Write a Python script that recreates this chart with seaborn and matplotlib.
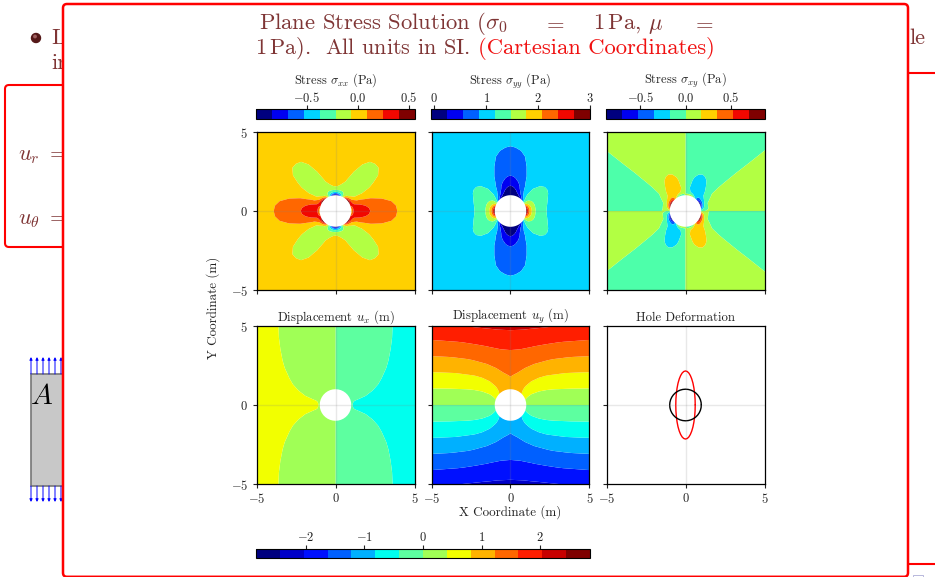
import numpy as np
import matplotlib
matplotlib.use("Agg")
import matplotlib.pyplot as plt
from matplotlib.patches import FancyBboxPatch, Rectangle, Circle
import pandas as pd
import seaborn as sns

# radius nodes of the tables below; rows run over the angle in the first quadrant
# stress tables step 5 degrees, displacement tables step 10 degrees
radii = [1, 1.1, 1.25, 1.5, 2, 2.5, 3, 4, 5, 7.2]

sxx_q = [
    [0.0, 0.214, 0.345, 0.37, 0.281, 0.202, 0.148, 0.088, 0.058, 0.029],
    [0.023, 0.22, 0.339, 0.357, 0.27, 0.193, 0.142, 0.085, 0.055, 0.028],
    [0.087, 0.236, 0.32, 0.322, 0.237, 0.169, 0.123, 0.073, 0.047, 0.024],
    [0.183, 0.259, 0.289, 0.265, 0.186, 0.13, 0.095, 0.055, 0.036, 0.018],
    [0.296, 0.282, 0.249, 0.195, 0.123, 0.082, 0.059, 0.034, 0.022, 0.011],
    [0.409, 0.3, 0.201, 0.117, 0.053, 0.031, 0.019, 0.01, 0.006, 0.003],
    [0.5, 0.305, 0.148, 0.038, -0.016, -0.021, -0.019, -0.013, -0.009, -0.005],
    [0.554, 0.294, 0.09, -0.036, -0.077, -0.066, -0.052, -0.033, -0.022, -0.011],
    [0.557, 0.258, 0.032, -0.1, -0.125, -0.1, -0.078, -0.047, -0.032, -0.016],
    [0.5, 0.199, -0.025, -0.147, -0.156, -0.122, -0.093, -0.057, -0.038, -0.019],
    [0.383, 0.115, -0.079, -0.177, -0.169, -0.128, -0.097, -0.058, -0.039, -0.02],
    [0.212, 0.011, -0.129, -0.188, -0.162, -0.121, -0.09, -0.055, -0.035, -0.018],
    [0.0, -0.108, -0.172, -0.184, -0.141, -0.101, -0.074, -0.044, -0.029, -0.014],
    [-0.235, -0.231, -0.21, -0.168, -0.108, -0.072, -0.052, -0.03, -0.02, -0.01],
    [-0.47, -0.351, -0.241, -0.145, -0.068, -0.04, -0.026, -0.014, -0.008, -0.004],
    [-0.683, -0.457, -0.265, -0.119, -0.03, -0.008, -0.002, 0.001, 0.002, 0.001],
    [-0.853, -0.541, -0.282, -0.096, 0.002, 0.018, 0.019, 0.015, 0.01, 0.006],
    [-0.963, -0.593, -0.292, -0.08, 0.024, 0.036, 0.033, 0.023, 0.016, 0.009],
    [-1.0, -0.612, -0.295, -0.075, 0.031, 0.042, 0.038, 0.025, 0.018, 0.009],
]
syy_q = [
    [3.0, 2.438, 1.935, 1.519, 1.219, 1.118, 1.074, 1.037, 1.022, 1.01],
    [2.948, 2.407, 1.922, 1.518, 1.222, 1.122, 1.077, 1.039, 1.024, 1.011],
    [2.793, 2.317, 1.883, 1.513, 1.233, 1.132, 1.085, 1.044, 1.027, 1.012],
    [2.549, 2.172, 1.819, 1.504, 1.247, 1.147, 1.098, 1.053, 1.033, 1.016],
    [2.236, 1.983, 1.731, 1.485, 1.26, 1.163, 1.111, 1.062, 1.039, 1.019],
    [1.878, 1.762, 1.622, 1.454, 1.269, 1.175, 1.123, 1.07, 1.045, 1.022],
    [1.5, 1.521, 1.492, 1.406, 1.266, 1.181, 1.13, 1.075, 1.049, 1.024],
    [1.13, 1.271, 1.348, 1.34, 1.248, 1.176, 1.128, 1.076, 1.049, 1.025],
    [0.791, 1.029, 1.191, 1.254, 1.212, 1.156, 1.116, 1.069, 1.046, 1.023],
    [0.5, 0.801, 1.025, 1.147, 1.156, 1.122, 1.093, 1.057, 1.038, 1.019],
    [0.269, 0.598, 0.857, 1.022, 1.082, 1.073, 1.058, 1.036, 1.025, 1.013],
    [0.104, 0.424, 0.691, 0.884, 0.991, 1.011, 1.014, 1.012, 1.008, 1.005],
    [0.0, 0.281, 0.532, 0.74, 0.891, 0.941, 0.963, 0.981, 0.989, 0.995],
    [-0.052, 0.169, 0.387, 0.597, 0.786, 0.867, 0.909, 0.95, 0.968, 0.985],
    [-0.062, 0.085, 0.26, 0.465, 0.685, 0.795, 0.856, 0.918, 0.947, 0.974],
    [-0.049, 0.026, 0.157, 0.35, 0.597, 0.731, 0.809, 0.891, 0.929, 0.965],
    [-0.027, -0.012, 0.078, 0.261, 0.528, 0.681, 0.772, 0.868, 0.915, 0.958],
    [-0.008, -0.034, 0.031, 0.206, 0.484, 0.649, 0.749, 0.854, 0.905, 0.953],
    [0.0, -0.04, 0.015, 0.187, 0.469, 0.638, 0.74, 0.85, 0.902, 0.952],
]
sxy_q = [
    [0.0, 0.0, 0.0, 0.0, 0.0, 0.0, 0.0, 0.0, 0.0, 0.0],
    [-0.258, -0.139, -0.047, 0.011, 0.032, 0.028, 0.022, 0.014, 0.009, 0.005],
    [-0.493, -0.269, -0.094, 0.019, 0.058, 0.051, 0.04, 0.026, 0.017, 0.009],
    [-0.683, -0.378, -0.139, 0.017, 0.073, 0.066, 0.052, 0.034, 0.023, 0.012],
    [-0.815, -0.461, -0.182, 0.001, 0.074, 0.068, 0.056, 0.035, 0.025, 0.013],
    [-0.876, -0.512, -0.221, -0.026, 0.059, 0.058, 0.049, 0.032, 0.022, 0.012],
    [-0.866, -0.529, -0.256, -0.065, 0.027, 0.036, 0.032, 0.022, 0.015, 0.008],
    [-0.792, -0.516, -0.285, -0.114, -0.017, 0.003, 0.007, 0.007, 0.005, 0.003],
    [-0.664, -0.475, -0.307, -0.169, -0.07, -0.037, -0.023, -0.011, -0.007, -0.003],
    [-0.5, -0.413, -0.32, -0.222, -0.125, -0.08, -0.056, -0.031, -0.02, -0.01],
    [-0.322, -0.34, -0.324, -0.269, -0.177, -0.121, -0.087, -0.05, -0.032, -0.016],
    [-0.148, -0.26, -0.316, -0.303, -0.218, -0.153, -0.112, -0.066, -0.043, -0.021],
    [0.0, -0.186, -0.298, -0.32, -0.244, -0.175, -0.128, -0.076, -0.05, -0.025],
    [0.11, -0.121, -0.27, -0.314, -0.25, -0.181, -0.134, -0.08, -0.053, -0.026],
    [0.171, -0.071, -0.23, -0.287, -0.235, -0.171, -0.127, -0.076, -0.05, -0.025],
    [0.183, -0.035, -0.181, -0.239, -0.198, -0.146, -0.108, -0.065, -0.043, -0.021],
    [0.151, -0.013, -0.125, -0.17, -0.144, -0.105, -0.078, -0.047, -0.031, -0.016],
    [0.084, -0.004, -0.065, -0.088, -0.075, -0.056, -0.042, -0.025, -0.016, -0.008],
    [0.0, 0.0, 0.0, 0.0, 0.0, 0.0, 0.0, 0.0, 0.0, 0.0],
]
ux_q = [
    [-0.385, -0.412, -0.432, -0.446, -0.459, -0.481, -0.51, -0.588, -0.68, -0.903],
    [-0.379, -0.401, -0.418, -0.429, -0.442, -0.465, -0.494, -0.573, -0.664, -0.887],
    [-0.362, -0.369, -0.374, -0.378, -0.391, -0.415, -0.447, -0.527, -0.617, -0.833],
    [-0.333, -0.322, -0.311, -0.305, -0.316, -0.343, -0.378, -0.458, -0.546, -0.752],
    [-0.294, -0.266, -0.239, -0.224, -0.233, -0.262, -0.297, -0.376, -0.46, -0.648],
    [-0.248, -0.205, -0.168, -0.147, -0.154, -0.182, -0.216, -0.29, -0.364, -0.53],
    [-0.193, -0.146, -0.108, -0.083, -0.09, -0.115, -0.144, -0.206, -0.268, -0.4],
    [-0.131, -0.093, -0.06, -0.041, -0.044, -0.063, -0.085, -0.131, -0.175, -0.268],
    [-0.067, -0.045, -0.027, -0.015, -0.016, -0.027, -0.038, -0.063, -0.085, -0.133],
    [0.0, 0.0, 0.0, 0.0, 0.0, 0.0, 0.0, 0.0, 0.0, 0.0],
]
uy_q = [
    [0.0, 0.0, 0.0, 0.0, 0.0, 0.0, 0.0, 0.0, 0.0, 0.0],
    [0.201, 0.175, 0.155, 0.143, 0.154, 0.179, 0.208, 0.271, 0.337, 0.483],
    [0.395, 0.349, 0.312, 0.293, 0.314, 0.361, 0.419, 0.541, 0.669, 0.954],
    [0.577, 0.522, 0.476, 0.451, 0.484, 0.551, 0.632, 0.806, 0.99, 1.404],
    [0.742, 0.687, 0.642, 0.621, 0.66, 0.742, 0.842, 1.062, 1.294, 1.82],
    [0.884, 0.84, 0.803, 0.788, 0.837, 0.93, 1.043, 1.296, 1.566, 2.184],
    [0.999, 0.972, 0.949, 0.943, 0.998, 1.099, 1.222, 1.498, 1.798, 2.49],
    [1.084, 1.075, 1.066, 1.07, 1.131, 1.235, 1.363, 1.655, 1.975, 2.719],
    [1.136, 1.139, 1.142, 1.154, 1.217, 1.322, 1.453, 1.754, 2.087, 2.861],
    [1.154, 1.162, 1.168, 1.183, 1.247, 1.353, 1.484, 1.788, 2.125, 2.909],
]

# contour band edges
sxx_range = [-0.995, 0.56]
syy_range = [-0.064, 3.0]
sxy_range = [-0.88, 0.88]
disp_range = [-2.85, 2.85]

# outlines of the hole, first quadrant
circle_x = [1.0, 0.985, 0.94, 0.866, 0.766, 0.643, 0.5, 0.342, 0.174, 0.0]
circle_y = [0.0, 0.174, 0.342, 0.5, 0.643, 0.766, 0.866, 0.94, 0.985, 1.0]
deformed_x = [0.615, 0.606, 0.578, 0.533, 0.472, 0.395, 0.307, 0.211, 0.107, 0.0]
deformed_y = [0.0, 0.375, 0.737, 1.077, 1.385, 1.65, 1.865, 2.024, 2.121, 2.154]

panel_ticks = [-5, 0, 5]
panel_ticklabels = ["$-5$", "$0$", "$5$"]
sxx_ticks = [-0.5, 0.0, 0.5]
syy_ticks = [0, 1, 2, 3]
sxy_ticks = [-0.5, 0.0, 0.5]
disp_ticks = [-2, -1, 0, 1, 2]

stress_colors = ["#00007f", "#0000f1", "#0060ff", "#00d4ff", "#4dffaa",
                 "#b2ff43", "#ffd000", "#ff6700", "#f10700", "#7f0000"]
disp_colors = ["#00007f", "#0000c8", "#0010ff", "#0060ff", "#00b0ff", "#00ffee", "#5dffa0",
               "#a0ff56", "#f2ff00", "#ffb300", "#ff6700", "#ff1e00", "#c80000", "#7f0000"]

W, H = 935, 577
BROWN = "#7f3535"

sns.set_style("ticks")
plt.rcParams["font.family"] = ["cmr10", "DejaVu Serif"]
plt.rcParams["mathtext.fontset"] = "cm"
plt.rcParams["axes.unicode_minus"] = False
plt.rcParams["axes.edgecolor"] = "black"
plt.rcParams["text.color"] = "#222222"
plt.rcParams["xtick.color"] = "#222222"
plt.rcParams["ytick.color"] = "#222222"


def full_turn(q, sx, sy):
    # the tables hold one quadrant, the other three follow from the symmetry
    q = np.array(q)
    rev = q[::-1]
    return np.vstack([q, sx * rev[1:], sx * sy * q[1:], sy * rev[1:]])


def closed_outline(xs, ys):
    xs = np.array(xs)
    ys = np.array(ys)
    return pd.DataFrame({
        "x": np.concatenate([xs, -xs[::-1][1:], -xs[1:], xs[::-1][1:]]),
        "y": np.concatenate([ys, ys[::-1][1:], -ys[1:], -ys[::-1][1:]]),
    })


def box(x0, y0, x1, y1):
    # pixel box to figure fraction
    return [x0 / W, 1 - y1 / H, (x1 - x0) / W, (y1 - y0) / H]


def fx(x):
    return x / W


def fy(y):
    return 1 - y / H


fig = plt.figure(figsize=(W / 100, H / 100), dpi=100)

# --- slide behind the overlay ---
bg = fig.add_axes([0, 0, 1, 1], zorder=0)
bg.set_xlim(0, W)
bg.set_ylim(H, 0)
bg.axis("off")
bg.add_patch(FancyBboxPatch((5, 85), 120, 162, boxstyle="round,pad=0,rounding_size=4",
                            fc="white", ec="red", lw=1.5))
bg.plot([908, W], [73, 73], color="red", lw=1.5)
bg.plot([908, W], [564, 564], color="red", lw=1.5)
bg.add_patch(Circle((36, 38), 4.5, color="#551818"))
bg.add_patch(Circle((35, 36.5), 1.2, color="#a06060"))
bg.text(51, 44, "L", fontsize=16, color=BROWN)
bg.text(51, 69, "in", fontsize=16, color=BROWN)
bg.text(909, 44, "le", fontsize=16, color=BROWN)
bg.text(18.5, 160, r"$u_r\ =$", fontsize=16, color=BROWN)
bg.text(18.5, 224, r"$u_\theta\ =$", fontsize=16, color=BROWN)
bg.add_patch(Rectangle((31, 373.5), 50, 112, fc="#c8c8c8", ec="#777777", lw=1.2))
for ax_x in [31, 37, 43, 49, 55, 61]:
    bg.annotate("", xy=(ax_x, 357), xytext=(ax_x, 374), arrowprops=dict(arrowstyle="-|>", color="blue", lw=0.7, mutation_scale=4, shrinkA=0, shrinkB=0))
    bg.annotate("", xy=(ax_x, 502), xytext=(ax_x, 486), arrowprops=dict(arrowstyle="-|>", color="blue", lw=0.7, mutation_scale=4, shrinkA=0, shrinkB=0))
bg.text(29.5, 404, "$A$", fontsize=21, color="black")
bg.add_patch(Rectangle((913, 575), 10, 5, fc="white", ec="#b8b8dc", lw=0.7))
bg.add_patch(FancyBboxPatch((63, 4), 845, 572.8, boxstyle="round,pad=0,rounding_size=4",
                            fc="white", ec="red", lw=1.8, zorder=5))

# --- title ---
fig.text(fx(259), fy(29), r"Plane Stress Solution ($\sigma_0$", fontsize=16.3, color=BROWN)
fig.text(fx(543), fy(29), "$=$", fontsize=16.3, color=BROWN)
fig.text(fx(593), fy(29), r"$1\,$Pa, $\mu$", fontsize=16.3, color=BROWN)
fig.text(fx(692), fy(29), "$=$", fontsize=16.3, color=BROWN)
fig.text(fx(255), fy(54), r"$1\,$Pa).  All units in SI.", fontsize=16, color=BROWN)
fig.text(fx(478), fy(54), "(Cartesian Coordinates)", fontsize=16.3, color="#f01010")

# --- fields ---
fields = [
    (sxx_q, 1, 1, sxx_range, stress_colors, box(256, 132, 415, 290)),
    (syy_q, 1, 1, syy_range, stress_colors, box(431, 132, 590, 290)),
    (sxy_q, -1, -1, sxy_range, stress_colors, box(606, 132, 765, 290)),
    (ux_q, -1, 1, disp_range, disp_colors, box(256, 326, 415, 484)),
    (uy_q, 1, -1, disp_range, disp_colors, box(431, 326, 590, 484)),
]
bars = [
    (box(256, 109, 415, 119), sxx_ticks, [r"$-0.5$", "$0.0$", "$0.5$"], r"Stress $\sigma_{xx}$ (Pa)"),
    (box(431, 109, 590, 119), syy_ticks, ["$0$", "$1$", "$2$", "$3$"], r"Stress $\sigma_{yy}$ (Pa)"),
    (box(606, 109, 765, 119), sxy_ticks, [r"$-0.5$", "$0.0$", "$0.5$"], r"Stress $\sigma_{xy}$ (Pa)"),
]
axes = []
sets = []
for q, sx, sy, lim, cols, rect in fields:
    ax = fig.add_axes(rect, zorder=6)
    z = full_turn(q, sx, sy)
    phi = np.linspace(0, 2 * np.pi, z.shape[0])
    rr, pp = np.meshgrid(radii, phi)
    levels = np.linspace(lim[0], lim[1], len(cols) + 1)
    cs = ax.contourf(rr * np.cos(pp), rr * np.sin(pp), z, levels=levels,
                     colors=cols, antialiased=True, extend="neither")
    axes.append(ax)
    sets.append(cs)

# --- hole deformation ---
ax_hole = fig.add_axes(box(606, 326, 765, 484), zorder=6)
axes.append(ax_hole)
sns.lineplot(data=closed_outline(deformed_x, deformed_y), x="x", y="y", sort=False,
             estimator=None, color="red", lw=1, ax=ax_hole)
sns.lineplot(data=closed_outline(circle_x, circle_y), x="x", y="y", sort=False,
             estimator=None, color="black", lw=1, ax=ax_hole)

for i, ax in enumerate(axes):
    ax.set_xlim(-5, 5)
    ax.set_ylim(-5, 5)
    ax.set_aspect("equal")
    ax.axhline(0, color="gray", lw=1, alpha=0.18)
    ax.axvline(0, color="gray", lw=1, alpha=0.18)
    ax.set_xlabel("")
    ax.set_ylabel("")
    ax.set_xticks(panel_ticks)
    ax.set_yticks(panel_ticks)
    ax.set_xticklabels(panel_ticklabels if i >= 3 else [])
    ax.set_yticklabels(panel_ticklabels if i in (0, 3) else [])
    ax.tick_params(labelsize=9, length=2.6, width=0.8, pad=3.5)
    for s in ax.spines.values():
        s.set_linewidth(0.9)

axes[3].set_title(r"Displacement $u_x$ (m)", fontsize=9.2, pad=3.5)
axes[4].set_title(r"Displacement $u_y$ (m)", fontsize=9.2, pad=3.5)
axes[5].set_title("Hole Deformation", fontsize=9.2, pad=3.5)

for (rect, ticks, labels, label), cs in zip(bars, sets[:3]):
    cax = fig.add_axes(rect, zorder=6)
    cb = fig.colorbar(cs, cax=cax, orientation="horizontal", ticklocation="top", ticks=ticks)
    cb.ax.set_xticklabels(labels)
    cb.ax.tick_params(labelsize=9, length=2.6, width=0.8, pad=0.5)
    cb.set_label(label, fontsize=9, labelpad=5)

cax = fig.add_axes(box(256, 549, 590, 558), zorder=6)
cb = fig.colorbar(sets[3], cax=cax, orientation="horizontal", ticklocation="top", ticks=disp_ticks)
cb.ax.set_xticklabels(["$-2$", "$-1$", "$0$", "$1$", "$2$"])
cb.ax.tick_params(labelsize=9, length=2.6, width=0.8, pad=1)

fig.text(fx(510), fy(512), "X Coordinate (m)", fontsize=9.4, ha="center", va="center", zorder=7)
fig.text(fx(213), fy(308), "Y Coordinate (m)", fontsize=9.4, rotation=90, ha="center", va="center", zorder=7)

fig.savefig("out.png", dpi=100)
